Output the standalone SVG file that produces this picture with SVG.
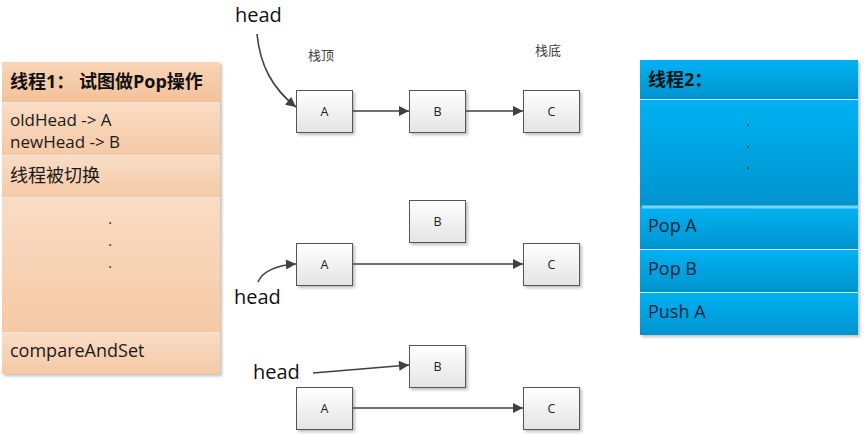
<svg xmlns="http://www.w3.org/2000/svg" width="864" height="436" viewBox="0 0 864 436">
<defs>
<linearGradient id="og" x1="0" y1="0" x2="0" y2="1"><stop offset="0" stop-color="#f9dcc5"/><stop offset="1" stop-color="#f5c9a5"/></linearGradient>
<linearGradient id="ogh" x1="0" y1="0" x2="0" y2="1"><stop offset="0" stop-color="#f9d5b7"/><stop offset="1" stop-color="#f3c199"/></linearGradient>
<linearGradient id="bg" x1="0" y1="0" x2="0" y2="1"><stop offset="0" stop-color="#00b2f2"/><stop offset="1" stop-color="#0094cf"/></linearGradient>
<linearGradient id="ng" x1="0" y1="0" x2="0" y2="1"><stop offset="0" stop-color="#ffffff"/><stop offset="1" stop-color="#e4e4e4"/></linearGradient>
<filter id="sh" x="-10%" y="-10%" width="130%" height="130%"><feDropShadow dx="2" dy="2" stdDeviation="1.5" flood-color="#000" flood-opacity="0.25"/></filter>
<marker id="ah" viewBox="0 0 10 10" refX="10" refY="5" markerWidth="11" markerHeight="10" markerUnits="userSpaceOnUse" orient="auto"><path d="M0,0 L10,5 L0,10 z" fill="#404040"/></marker>
</defs>
<style>
.pt{font-family:"Open Sans","Noto Sans CJK SC",sans-serif;font-size:18px;fill:#1a1a1a}
.pt2{font-family:"Open Sans","Noto Sans CJK SC",sans-serif;font-size:17px;fill:#1a1a1a}
.pb{font-family:"Open Sans","Noto Sans CJK SC",sans-serif;font-size:18px;font-weight:bold;fill:#111}
.bt{font-family:"Open Sans","Noto Sans CJK SC",sans-serif;font-size:18px;fill:#0d1f3a}
.nb{fill:url(#ng);stroke:#555;stroke-width:1}
.nt{font-family:"Open Sans",sans-serif;font-size:12.5px;fill:#222;text-anchor:middle}
.hd{font-family:"Open Sans",sans-serif;font-size:20px;fill:#111}
.cn{font-family:"Noto Sans CJK SC",sans-serif;font-size:13px;fill:#444}
.ln{fill:none;stroke:#404040;stroke-width:1.6;marker-end:url(#ah)}
.dot{font-family:"Open Sans",sans-serif;font-size:14px;fill:#222;text-anchor:middle}
.sep{stroke:#fbe6d5;stroke-width:1}
.bsep{stroke:#d5f1ff;stroke-width:1}
</style>

<g id="thread1">
<g filter="url(#sh)"><rect x="2" y="62" width="218" height="312" fill="#f6cfae"/></g>
<rect x="2" y="62" width="218" height="40" fill="url(#ogh)"/>
<rect x="2" y="103" width="218" height="52" fill="url(#og)"/>
<rect x="2" y="156" width="218" height="41" fill="url(#og)"/>
<rect x="2" y="198" width="218" height="134" fill="url(#og)"/>
<rect x="2" y="333" width="218" height="41" fill="url(#og)"/>
<line class="sep" x1="2" y1="102.5" x2="220" y2="102.5"/>
<line class="sep" x1="2" y1="155.5" x2="220" y2="155.5"/>
<line class="sep" x1="2" y1="197.5" x2="220" y2="197.5"/>
<line class="sep" x1="2" y1="332.5" x2="220" y2="332.5"/>
<text class="pb" x="10" y="88">线程1： 试图做Pop操作</text>
<text class="pt2" x="10" y="126">oldHead -&gt; A</text>
<text class="pt2" x="10" y="148">newHead -&gt; B</text>
<text class="pt" x="10" y="182">线程被切换</text>
<text class="dot" x="110" y="224">.</text>
<text class="dot" x="110" y="246">.</text>
<text class="dot" x="110" y="268">.</text>
<text class="pt" x="10" y="357">compareAndSet</text>
</g>

<g id="thread2">
<g filter="url(#sh)"><rect x="640" y="60" width="218" height="275" fill="#00a4e2"/></g>
<rect x="640" y="60" width="218" height="39" fill="url(#bg)"/>
<rect x="640" y="100" width="218" height="106" fill="url(#bg)"/>
<rect x="640" y="208" width="218" height="41" fill="url(#bg)"/>
<rect x="640" y="250" width="218" height="42" fill="url(#bg)"/>
<rect x="640" y="293" width="218" height="42" fill="url(#bg)"/>
<line class="bsep" x1="640" y1="99.5" x2="858" y2="99.5"/>
<line x1="642" y1="207" x2="858" y2="207" stroke="#7fd3f5" stroke-width="3"/>
<line class="bsep" x1="640" y1="249.5" x2="858" y2="249.5"/>
<line class="bsep" x1="640" y1="292.5" x2="858" y2="292.5"/>
<text class="pb" x="648" y="86">线程2：</text>
<text class="dot" x="748" y="126">.</text>
<text class="dot" x="748" y="148">.</text>
<text class="dot" x="748" y="169">.</text>
<text class="bt" x="648" y="232">Pop A</text>
<text class="bt" x="648" y="275">Pop B</text>
<text class="bt" x="648" y="318">Push A</text>
</g>

<g id="labels">
<text class="hd" x="235" y="22">head</text>
<text class="cn" x="308" y="60">栈顶</text>
<text class="cn" x="535" y="55">栈底</text>
<text class="hd" x="234" y="304">head</text>
<text class="hd" x="253" y="379">head</text>
</g>

<g id="r1A"><rect class="nb" x="296.5" y="90.5" width="56" height="42" filter="url(#sh)"/><text class="nt" x="324.5" y="116">A</text></g>
<g id="r1B"><rect class="nb" x="409.5" y="90.5" width="56" height="42" filter="url(#sh)"/><text class="nt" x="437.5" y="116">B</text></g>
<g id="r1C"><rect class="nb" x="523.5" y="90.5" width="56" height="42" filter="url(#sh)"/><text class="nt" x="551.5" y="116">C</text></g>

<g id="r2B"><rect class="nb" x="409.5" y="200.5" width="56" height="42" filter="url(#sh)"/><text class="nt" x="437.5" y="226">B</text></g>
<g id="r2A"><rect class="nb" x="296.5" y="243.5" width="56" height="42" filter="url(#sh)"/><text class="nt" x="324.5" y="269">A</text></g>
<g id="r2C"><rect class="nb" x="523.5" y="243.5" width="56" height="42" filter="url(#sh)"/><text class="nt" x="551.5" y="269">C</text></g>

<g id="r3B"><rect class="nb" x="409.5" y="345.5" width="56" height="42" filter="url(#sh)"/><text class="nt" x="437.5" y="371">B</text></g>
<g id="r3A"><rect class="nb" x="296.5" y="387.5" width="56" height="42" filter="url(#sh)"/><text class="nt" x="324.5" y="413">A</text></g>
<g id="r3C"><rect class="nb" x="523.5" y="387.5" width="56" height="42" filter="url(#sh)"/><text class="nt" x="551.5" y="413">C</text></g>

<g id="connectors">
<path class="ln" d="M257,34 C260,65 272,88 296,107"/>
<path class="ln" d="M353,111 L409,111"/>
<path class="ln" d="M466,111 L523,111"/>
<path class="ln" d="M258,282 C262,272 276,265 296,264"/>
<path class="ln" d="M353,264 L523,264"/>
<path class="ln" d="M313,373 L409,365"/>
<path class="ln" d="M353,408 L523,408"/>
</g>
</svg>
